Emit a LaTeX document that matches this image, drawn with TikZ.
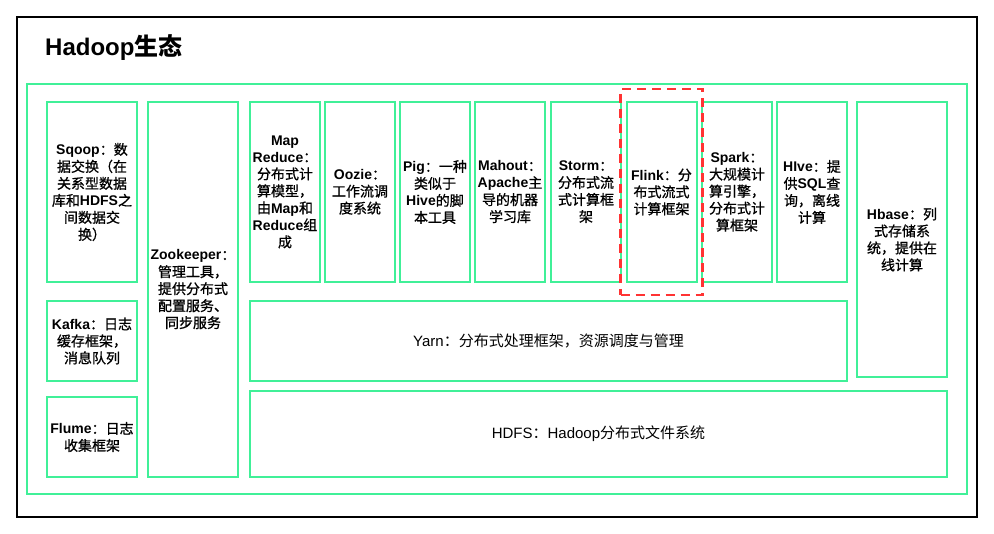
\documentclass[tikz,border=0pt]{standalone}
\usepackage{fontspec}
\setmainfont{Noto Sans CJK SC}[BoldFont={Noto Sans CJK SC}, BoldFeatures={FakeBold=0.9}]
\newfontfamily\titlefont{Noto Sans CJK SC}
\newfontfamily\latinfont{Liberation Sans}
\newcommand{\en}[1]{{\latinfont #1}}
\usepackage{tikz}
\usepackage{xcolor}
\usetikzlibrary{fit}

\definecolor{mint}{RGB}{64,240,152}
\definecolor{flinkred}{RGB}{255,51,51}

\tikzset{
  box/.style={draw=mint, line width=2pt, align=center, inner sep=0pt,
    font=\bfseries\fontsize{14}{17}\selectfont},
  flat/.style={box, font=\fontsize{15}{17}\selectfont},
  hilite/.style={draw=flinkred, line width=2.6pt, dash pattern=on 9pt off 6pt,
    inner xsep=5pt, inner ysep=12pt}
}

\begin{document}
\begin{tikzpicture}[x=1pt, y=-1pt]
    \useasboundingbox (0,0) rectangle (994,534);

    % Frames
    \node[draw=black, line width=2pt, minimum width=960, minimum height=500] (frame) at (497,267) {};
    \node[draw=mint, line width=2pt, minimum width=940, minimum height=410] (stack) at (497,289) {};
    \node[anchor=west, inner sep=0pt, font=\titlefont\bfseries\fontsize{24}{26}\selectfont] (title) at (45,48) {\en{Hadoop}生态};

    % Left column
    \node[box, minimum width=90, minimum height=180] (sqoop) at (92,192)
      {\en{Sqoop}：数\\据交换（在\\关系型数据\\库和\en{HDFS}之\\间数据交\\换）};
    \node[box, minimum width=90, minimum height=80] (kafka) at (92,341)
      {\en{Kafka}：日志\\缓存框架，\\消息队列};
    \node[box, minimum width=90, minimum height=80] (flume) at (92,437)
      {\en{Flume}：日志\\收集框架};
    \node[box, minimum width=90, minimum height=375] (zookeeper) at (193,289.5)
      {\en{Zookeeper}：\\管理工具，\\提供分布式\\配置服务、\\同步服务};

    % Tools on top of Yarn
    \node[box, minimum width=70, minimum height=180] (mapreduce) at (285,192)
      {\en{Map}\\\en{Reduce}：\\分布式计\\算模型，\\由\en{Map}和\\\en{Reduce}组\\成};
    \node[box, minimum width=70, minimum height=180] (oozie) at (360,192)
      {\en{Oozie}：\\工作流调\\度系统};
    \node[box, minimum width=70, minimum height=180] (pig) at (435,192)
      {\en{Pig}：一种\\类似于\\\en{Hive}的脚\\本工具};
    \node[box, minimum width=70, minimum height=180] (mahout) at (510,192)
      {\en{Mahout}：\\\en{Apache}主\\导的机器\\学习库};
    \node[box, minimum width=70, minimum height=180] (storm) at (586,192)
      {\en{Storm}：\\分布式流\\式计算框\\架};
    \node[box, minimum width=70, minimum height=180] (flink) at (661.5,192)
      {\en{Flink}：分\\布式流式\\计算框架};
    \node[box, minimum width=70, minimum height=180] (spark) at (737,192)
      {\en{Spark}：\\大规模计\\算引擎，\\分布式计\\算框架};
    \node[box, minimum width=70, minimum height=180] (hive) at (812,192)
      {\en{HIve}：提\\供\en{SQL}查\\询，离线\\计算};
    \node[box, minimum width=90, minimum height=275] (hbase) at (902,239.5)
      {\en{Hbase}：列\\式存储系\\统，提供在\\线计算};

    % Base layers
    \node[flat, minimum width=597, minimum height=80] (yarn) at (548.5,341)
      {\en{Yarn}：分布式处理框架，资源调度与管理};
    \node[flat, minimum width=697, minimum height=86] (hdfs) at (598.5,434)
      {\en{HDFS}：\en{Hadoop}分布式文件系统};

    % Highlight
    \node[hilite, fit=(flink)] (mark) {};
\end{tikzpicture}
\end{document}
